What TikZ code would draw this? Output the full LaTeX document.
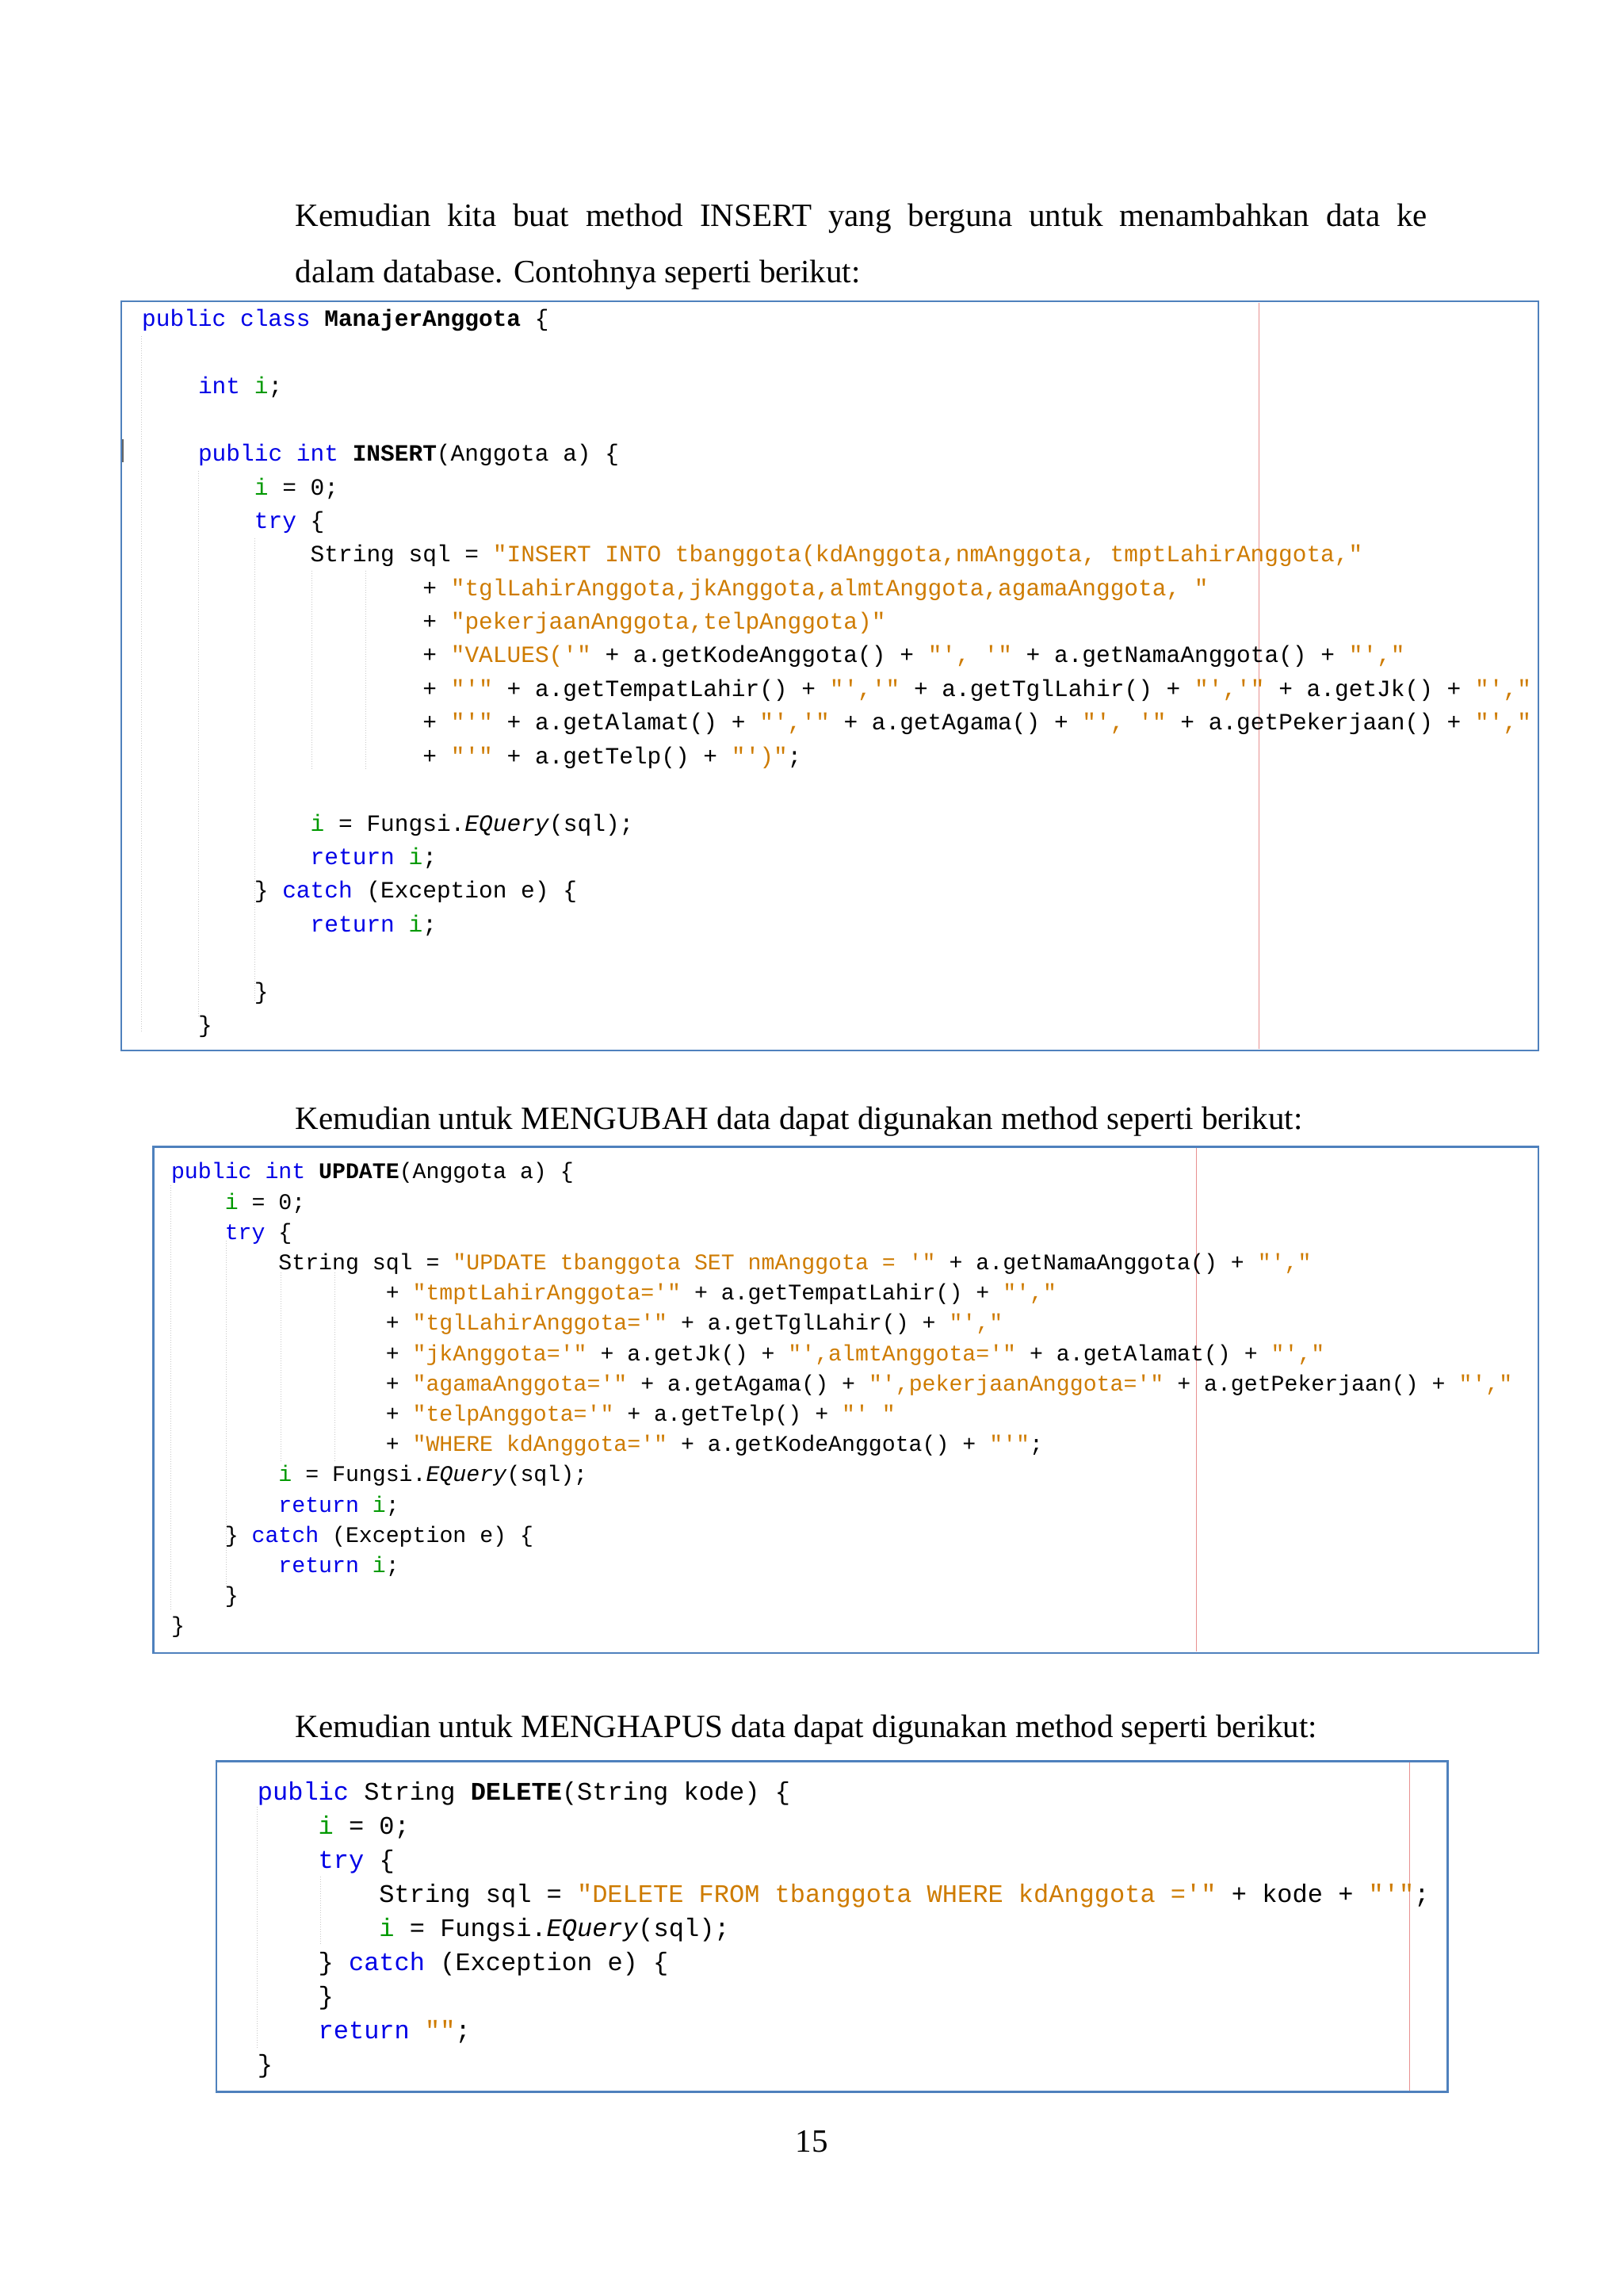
\documentclass[tikz,border=0pt]{standalone}
\usepackage{fontspec}
\setmainfont{Liberation Serif}
\newfontfamily\codef{Liberation Mono}
\definecolor{kwc}{HTML}{0000E6}
\definecolor{stc}{HTML}{CE7B00}
\definecolor{vrc}{HTML}{009900}
\definecolor{boxc}{HTML}{4F81BD}
\definecolor{redl}{HTML}{E89090}
\definecolor{guide}{HTML}{C8C8C8}
\newcommand\kw[1]{\textcolor{kwc}{#1}}
\newcommand\st[1]{\textcolor{stc}{#1}}
\newcommand\vr[1]{\textcolor{vrc}{#1}}
\newcommand\bo[1]{\textbf{#1}}
\begin{document}
\begin{tikzpicture}[x=1.845pt,y=-1.845pt,
  body/.style={anchor=base west,inner sep=0,font=\fontsize{41}{70}\selectfont},
  ca/.style={anchor=west,inner sep=0,yshift=-3.5pt,font=\codef\fontsize{29.5}{30}\selectfont},
  cb/.style={anchor=west,inner sep=0,yshift=-3.5pt,font=\codef\fontsize{28.2}{30}\selectfont},
  cc/.style={anchor=west,inner sep=0,yshift=-3.5pt,font=\codef\fontsize{32}{34}\selectfont},
  frame/.style={draw=boxc,line width=2.5pt},
  redline/.style={draw=redl,line width=1.5pt},
  gl/.style={draw=guide,dotted,line width=1pt}]
\useasboundingbox (0,0) rectangle (1110,1569.6);
% paragraphs
\node[body] (p1) at (202,155) {\makebox[1428pt][s]{Kemudian kita buat method INSERT yang berguna untuk menambahkan data ke}};
\node[body] (p2) at (202,193) {dalam database. Contohnya seperti berikut:};
\node[body] (p3) at (202,772) {Kemudian untuk MENGUBAH data dapat digunakan method seperti berikut:};
\node[body] (p4) at (202,1188) {Kemudian untuk MENGHAPUS data dapat digunakan method seperti berikut:};
\node[body,anchor=base] (pg) at (555,1471) {15};
% box 1
\draw[frame] (83,206) rectangle (1052,718);
\draw[redline] (861,207) -- (861,717);
\draw[gl] (97,230) -- (97,705); \draw[gl] (136,322) -- (136,695);
\draw[gl] (174,368) -- (174,685); \draw[gl] (213,390) -- (213,525); \draw[gl] (250,390) -- (250,525);
\draw[line width=1.5pt,black!60] (84,300) -- (84,316);
\def\xa{97}\def\wa{9.6}
\node[ca] (a1) at (\xa,217) {\kw{public class} \bo{ManajerAnggota} \{};
\node[ca] (a2) at ({\xa+4*\wa},263) {\kw{int} \vr{i};};
\node[ca] (a3) at ({\xa+4*\wa},309) {\kw{public int} \bo{INSERT}(Anggota a) \{};
\node[ca] (a4) at ({\xa+8*\wa},332) {\vr{i} = 0;};
\node[ca] (a5) at ({\xa+8*\wa},355) {\kw{try} \{};
\node[ca] (a6) at ({\xa+12*\wa},378) {String sql = \st{"INSERT INTO tbanggota(kdAnggota,nmAnggota, tmptLahirAnggota,"}};
\node[ca] (a7) at ({\xa+20*\wa},401) {+ \st{"tglLahirAnggota,jkAnggota,almtAnggota,agamaAnggota, "}};
\node[ca] (a8) at ({\xa+20*\wa},424) {+ \st{"pekerjaanAnggota,telpAnggota)"}};
\node[ca] (a9) at ({\xa+20*\wa},447) {+ \st{"VALUES('"} + a.getKodeAnggota() + \st{"', '"} + a.getNamaAnggota() + \st{"',"}};
\node[ca] (a10) at ({\xa+20*\wa},470) {+ \st{"'"} + a.getTempatLahir() + \st{"','"} + a.getTglLahir() + \st{"','"} + a.getJk() + \st{"',"}};
\node[ca] (a11) at ({\xa+20*\wa},493) {+ \st{"'"} + a.getAlamat() + \st{"','"} + a.getAgama() + \st{"', '"} + a.getPekerjaan() + \st{"',"}};
\node[ca] (a12) at ({\xa+20*\wa},516) {+ \st{"'"} + a.getTelp() + \st{"')"};};
\node[ca] (a13) at ({\xa+12*\wa},562) {\vr{i} = Fungsi.\textit{EQuery}(sql);};
\node[ca] (a14) at ({\xa+12*\wa},585) {\kw{return} \vr{i};};
\node[ca] (a15) at ({\xa+8*\wa},608) {\} \kw{catch} (Exception e) \{};
\node[ca] (a16) at ({\xa+12*\wa},631) {\kw{return} \vr{i};};
\node[ca] (a17) at ({\xa+8*\wa},677) {\}};
\node[ca] (a18) at ({\xa+4*\wa},700) {\}};
% box 2
\draw[frame] (105,784) rectangle (1052,1130);
\draw[redline] (818,785) -- (818,1129);
\draw[gl] (117,810) -- (117,1100); \draw[gl] (155,848) -- (155,1085);
\draw[gl] (192,870) -- (192,1000); \draw[gl] (229,870) -- (229,1000);
\def\xb{117}\def\wb{9.17}
\node[cb] (b1) at (\xb,800) {\kw{public int} \bo{UPDATE}(Anggota a) \{};
\node[cb] (b2) at ({\xb+4*\wb},820.7) {\vr{i} = 0;};
\node[cb] (b3) at ({\xb+4*\wb},841.4) {\kw{try} \{};
\node[cb] (b4) at ({\xb+8*\wb},862.1) {String sql = \st{"UPDATE tbanggota SET nmAnggota = '"} + a.getNamaAnggota() + \st{"',"}};
\node[cb] (b5) at ({\xb+16*\wb},882.8) {+ \st{"tmptLahirAnggota='"} + a.getTempatLahir() + \st{"',"}};
\node[cb] (b6) at ({\xb+16*\wb},903.5) {+ \st{"tglLahirAnggota='"} + a.getTglLahir() + \st{"',"}};
\node[cb] (b7) at ({\xb+16*\wb},924.2) {+ \st{"jkAnggota='"} + a.getJk() + \st{"',almtAnggota='"} + a.getAlamat() + \st{"',"}};
\node[cb] (b8) at ({\xb+16*\wb},944.9) {+ \st{"agamaAnggota='"} + a.getAgama() + \st{"',pekerjaanAnggota='"} + a.getPekerjaan() + \st{"',"}};
\node[cb] (b9) at ({\xb+16*\wb},965.6) {+ \st{"telpAnggota='"} + a.getTelp() + \st{"' "}};
\node[cb] (b10) at ({\xb+16*\wb},986.3) {+ \st{"WHERE kdAnggota='"} + a.getKodeAnggota() + \st{"'"};};
\node[cb] (b11) at ({\xb+8*\wb},1007) {\vr{i} = Fungsi.\textit{EQuery}(sql);};
\node[cb] (b12) at ({\xb+8*\wb},1027.7) {\kw{return} \vr{i};};
\node[cb] (b13) at ({\xb+4*\wb},1048.4) {\} \kw{catch} (Exception e) \{};
\node[cb] (b14) at ({\xb+8*\wb},1069.1) {\kw{return} \vr{i};};
\node[cb] (b15) at ({\xb+4*\wb},1089.8) {\}};
\node[cb] (b16) at (\xb,1110.5) {\}};
% box 3
\draw[frame] (148,1204) rectangle (990,1430);
\draw[redline] (964,1205) -- (964,1429);
\draw[gl] (176,1235) -- (176,1400); \draw[gl] (219,1283) -- (219,1330);
\def\xc{176}\def\wc{10.4}
\node[cc] (c1) at (\xc,1224) {\kw{public} String \bo{DELETE}(String kode) \{};
\node[cc] (c2) at ({\xc+4*\wc},1247.3) {\vr{i} = 0;};
\node[cc] (c3) at ({\xc+4*\wc},1270.6) {\kw{try} \{};
\node[cc] (c4) at ({\xc+8*\wc},1293.9) {String sql = \st{"DELETE FROM tbanggota WHERE kdAnggota ='"} + kode + \st{"'"};};
\node[cc] (c5) at ({\xc+8*\wc},1317.2) {\vr{i} = Fungsi.\textit{EQuery}(sql);};
\node[cc] (c6) at ({\xc+4*\wc},1340.5) {\} \kw{catch} (Exception e) \{};
\node[cc] (c7) at ({\xc+4*\wc},1363.8) {\}};
\node[cc] (c8) at ({\xc+4*\wc},1387.1) {\kw{return} \st{""};};
\node[cc] (c9) at (\xc,1410.4) {\}};
\end{tikzpicture}
\end{document}
